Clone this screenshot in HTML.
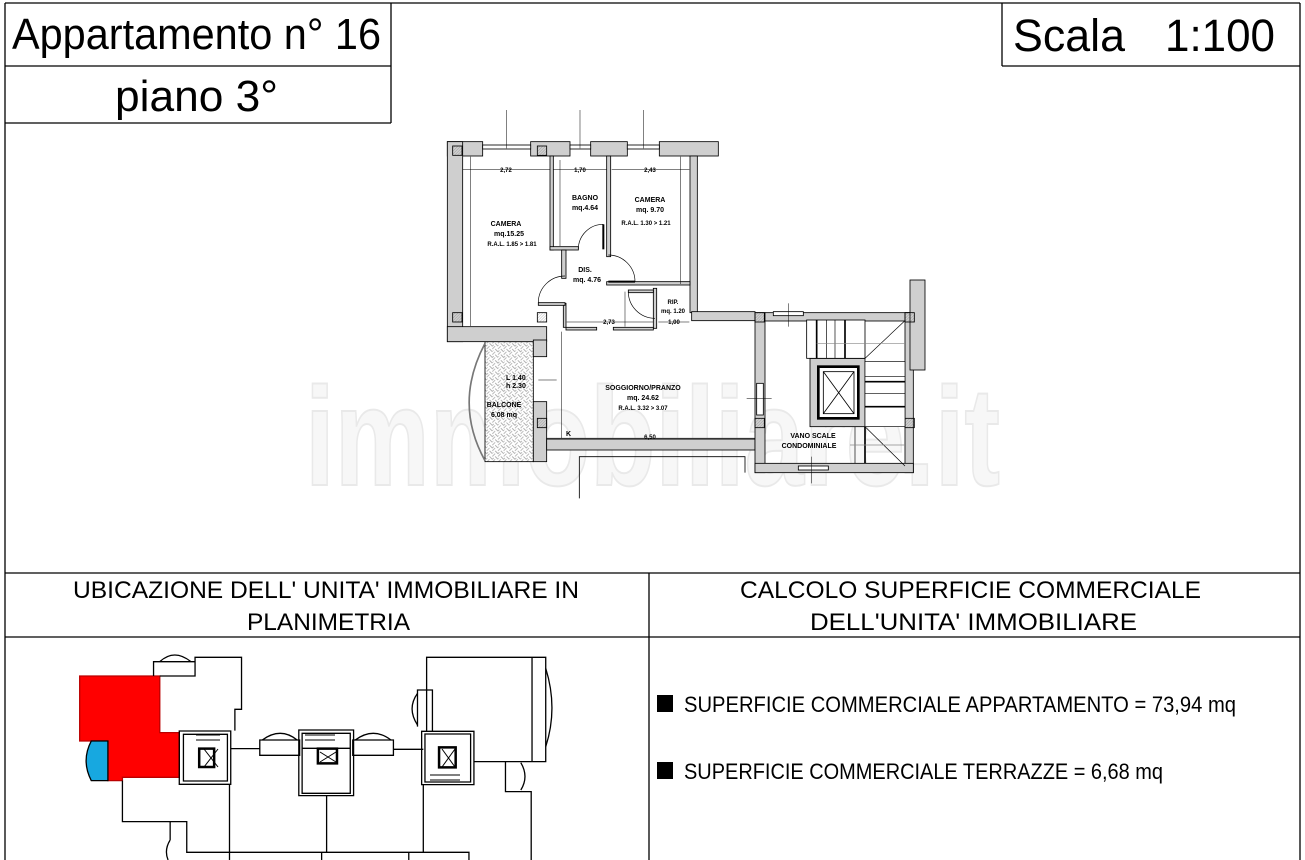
<!DOCTYPE html>
<html><head><meta charset="utf-8"><style>
html,body{margin:0;padding:0;background:#fff;}
svg{display:block;}
text{font-family:"Liberation Sans",Arial,sans-serif;}
</style></head><body>
<svg width="1305" height="860" viewBox="0 0 1305 860" xmlns="http://www.w3.org/2000/svg">
<defs>
<pattern id="hatch" width="6" height="6" patternUnits="userSpaceOnUse" patternTransform="rotate(45)">
<line x1="0" y1="0" x2="0" y2="6" stroke="#555" stroke-width="1.2"/>
</pattern>
<pattern id="herr" width="24" height="24" patternUnits="userSpaceOnUse" patternTransform="rotate(45)">
<rect width="24" height="24" fill="#fff"/>
<path d="M0 6H12V0M12 18H24V12M6 12V24M18 0V12" stroke="#999" stroke-width="2" fill="none"/>
</pattern>
</defs>

<!-- watermark -->
<text x="305" y="485" font-size="140" font-weight="bold" fill="#f7f7f7" stroke="#e9e9e9" stroke-width="2" textLength="695" lengthAdjust="spacingAndGlyphs">immobiliare.it</text>

<!-- frame -->
<g stroke="#000" stroke-width="1.3" fill="none">
<line x1="5" y1="3" x2="1300" y2="3"/>
<line x1="5" y1="3" x2="5" y2="860"/>
<line x1="1300" y1="3" x2="1300" y2="860"/>
<line x1="5" y1="66" x2="391" y2="66"/>
<line x1="5" y1="123" x2="391" y2="123"/>
<line x1="391" y1="3" x2="391" y2="123"/>
<line x1="1002" y1="3" x2="1002" y2="66"/>
<line x1="1002" y1="66" x2="1300" y2="66"/>
<line x1="5" y1="573" x2="1300" y2="573"/>
<line x1="5" y1="637" x2="1300" y2="637"/>
<line x1="649" y1="573" x2="649" y2="860"/>
</g>

<text x="12" y="49" font-size="44" textLength="369" lengthAdjust="spacingAndGlyphs">Appartamento n° 16</text>
<text x="115" y="111" font-size="44" textLength="163" lengthAdjust="spacingAndGlyphs">piano 3°</text>
<text x="1013" y="51" font-size="45" textLength="112" lengthAdjust="spacingAndGlyphs">Scala</text>
<text x="1165" y="51" font-size="45" textLength="110" lengthAdjust="spacingAndGlyphs">1:100</text>

<text x="73" y="598" font-size="24" textLength="506" lengthAdjust="spacingAndGlyphs">UBICAZIONE DELL' UNITA' IMMOBILIARE IN</text>
<text x="247" y="630" font-size="24" textLength="163" lengthAdjust="spacingAndGlyphs">PLANIMETRIA</text>
<text x="740" y="598" font-size="24" textLength="461" lengthAdjust="spacingAndGlyphs">CALCOLO SUPERFICIE COMMERCIALE</text>
<text x="810" y="630" font-size="24" textLength="327" lengthAdjust="spacingAndGlyphs">DELL'UNITA' IMMOBILIARE</text>

<rect x="657" y="695" width="16" height="17" fill="#000"/>
<text x="684" y="712" font-size="22" textLength="552" lengthAdjust="spacingAndGlyphs">SUPERFICIE COMMERCIALE APPARTAMENTO = 73,94 mq</text>
<rect x="657" y="762" width="16" height="17" fill="#000"/>
<text x="684" y="779" font-size="22" textLength="479" lengthAdjust="spacingAndGlyphs">SUPERFICIE COMMERCIALE TERRAZZE = 6,68 mq</text>

<!-- FLOOR PLAN (zoom coords, /3) -->
<g transform="translate(440,110) scale(0.33333)" stroke="#000" stroke-width="2.5">
<rect x="135" y="695" width="145" height="360" fill="url(#herr)"/>
<path d="M135 700 Q40 880 135 1052" fill="none" stroke="#777" stroke-width="5"/>
<g fill="#cfcfcf">
<rect x="22" y="95" width="106" height="43"/>
<rect x="272" y="95" width="118" height="43"/>
<rect x="452" y="95" width="110" height="43"/>
<rect x="658" y="95" width="177" height="43"/>
<rect x="22" y="95" width="46" height="600"/>
<rect x="22" y="650" width="298" height="45"/>
<rect x="280" y="690" width="40" height="50"/>
<rect x="280" y="875" width="40" height="180"/>
<rect x="320" y="985" width="625" height="35"/>
<rect x="750" y="138" width="22" height="470"/>
<rect x="755" y="605" width="190" height="27"/>
<rect x="330" y="138" width="10" height="282"/>
<rect x="330" y="410" width="85" height="10"/>
<rect x="365" y="420" width="13" height="85"/>
<rect x="500" y="138" width="12" height="302"/>
<rect x="500" y="515" width="250" height="10"/>
<rect x="640" y="535" width="10" height="120"/>
<rect x="370" y="580" width="8" height="72"/>
<rect x="295" y="578" width="80" height="8"/>
<rect x="378" y="652" width="92" height="8"/>
<rect x="520" y="652" width="120" height="8"/>
<rect x="565" y="540" width="75" height="8"/>
<rect x="945" y="608" width="30" height="480"/>
<rect x="975" y="608" width="440" height="25"/>
<rect x="1395" y="608" width="25" height="480"/>
<rect x="1410" y="510" width="45" height="270"/>
<rect x="945" y="1060" width="475" height="28"/>
<rect x="1110" y="745" width="165" height="205"/>
</g>
<g fill="#fff">
<rect x="128" y="105" width="144" height="12"/>
<rect x="390" y="105" width="62" height="12"/>
<rect x="562" y="105" width="96" height="12"/>
<rect x="1000" y="605" width="90" height="12"/>
<rect x="1075" y="1068" width="90" height="12"/>
<rect x="950" y="820" width="20" height="95"/>
</g>
<polyline points="418,1165 418,1040 915,1040 915,1088" fill="none"/>
<g fill="url(#hatch)">
<rect x="38" y="108" width="28" height="28"/><rect x="292" y="108" width="28" height="28"/>
<rect x="38" y="608" width="28" height="28"/><rect x="292" y="608" width="28" height="28"/>
<rect x="945" y="608" width="28" height="28"/><rect x="1395" y="608" width="28" height="28"/>
<rect x="945" y="925" width="28" height="28"/><rect x="1395" y="925" width="28" height="28"/>
<rect x="292" y="925" width="28" height="28"/>
</g>
<g fill="none" stroke-width="2">
<path d="M415 418 A75 75 0 0 1 490 343"/><line x1="490" y1="343" x2="490" y2="418" stroke-width="6"/>
<path d="M585 515 A80 80 0 0 0 505 435"/><line x1="505" y1="515" x2="585" y2="515" stroke-width="6"/>
<path d="M295 578 A80 80 0 0 1 375 498"/>
<path d="M565 545 A80 80 0 0 0 645 625"/>
</g>
<rect x="1100" y="630" width="175" height="115" fill="#fff"/>
<g fill="none" stroke-width="2">
<line x1="1130" y1="630" x2="1130" y2="745" stroke-width="5"/><line x1="1160" y1="630" x2="1160" y2="745"/>
<line x1="1185" y1="630" x2="1185" y2="745"/><line x1="1215" y1="630" x2="1215" y2="745" stroke-width="5"/>
<line x1="1275" y1="745" x2="1395" y2="632"/>
<rect x="1275" y="755" width="120" height="195" fill="#fff"/>
<line x1="1275" y1="800" x2="1395" y2="800"/><line x1="1275" y1="815" x2="1395" y2="815" stroke-width="5"/>
<line x1="1275" y1="850" x2="1395" y2="850"/><line x1="1275" y1="890" x2="1395" y2="890" stroke-width="5"/>
<line x1="1275" y1="950" x2="1395" y2="1068"/>
<line x1="1245" y1="950" x2="1245" y2="1060"/><line x1="1275" y1="950" x2="1275" y2="1060" stroke-width="5"/>
<line x1="1130" y1="700" x2="1395" y2="700" stroke="#888"/>
<line x1="1230" y1="1005" x2="1395" y2="1005" stroke="#888"/>
</g>
<rect x="1135" y="770" width="120" height="155" fill="#fff" stroke-width="8"/>
<rect x="1150" y="785" width="92" height="126" fill="none"/>
<line x1="1150" y1="785" x2="1242" y2="911"/><line x1="1242" y1="785" x2="1150" y2="911"/>
<g stroke-width="1.5" fill="none">
<line x1="68" y1="178" x2="330" y2="178"/><line x1="340" y1="178" x2="500" y2="178"/><line x1="515" y1="178" x2="748" y2="178"/>
<line x1="92" y1="140" x2="92" y2="648"/><line x1="722" y1="140" x2="722" y2="522"/><line x1="360" y1="150" x2="360" y2="408"/>
<line x1="365" y1="665" x2="365" y2="985"/><line x1="320" y1="988" x2="945" y2="988"/>
<line x1="380" y1="636" x2="640" y2="636"/><line x1="655" y1="636" x2="748" y2="636"/>
<line x1="555" y1="545" x2="555" y2="650"/>
<line x1="200" y1="0" x2="200" y2="115"/><line x1="420" y1="0" x2="420" y2="115"/><line x1="610" y1="0" x2="610" y2="115"/>
<line x1="1045" y1="580" x2="1045" y2="650"/><line x1="920" y1="865" x2="995" y2="865"/><line x1="1115" y1="1040" x2="1115" y2="1120"/>
<line x1="295" y1="810" x2="350" y2="810"/>
</g>
</g>
<g font-size="7" font-weight="bold" text-anchor="middle">
<text x="506" y="226">CAMERA</text><text x="509" y="236">mq.15.25</text>
<text x="512" y="246" font-size="6">R.A.L. 1.85 &gt; 1.81</text>
<text x="585" y="200">BAGNO</text><text x="585" y="210">mq.4.64</text>
<text x="650" y="202">CAMERA</text><text x="650" y="212">mq. 9.70</text>
<text x="646" y="225" font-size="6">R.A.L. 1.30 &gt; 1.21</text>
<text x="585" y="272">DIS.</text><text x="587" y="282">mq. 4.76</text>
<text x="673" y="304" font-size="6">RIP.</text><text x="673" y="313" font-size="6">mq. 1.20</text>
<text x="643" y="390">SOGGIORNO/PRANZO</text><text x="643" y="400">mq. 24.62</text>
<text x="643" y="410" font-size="6">R.A.L. 3.32 &gt; 3.07</text>
<text x="504" y="407">BALCONE</text><text x="504" y="417">6.08 mq</text>
<text x="813" y="438">VANO SCALE</text><text x="809" y="448">CONDOMINIALE</text>
<text x="506" y="172" font-size="6">2,72</text><text x="580" y="172" font-size="6">1,70</text><text x="650" y="172" font-size="6">2,43</text>
<text x="609" y="324" font-size="6">2,73</text><text x="674" y="324" font-size="6">1,00</text>
<text x="650" y="439" font-size="6">6,50</text>
</g>
<text x="506" y="380" font-size="7" font-weight="bold">L 1.40</text>
<text x="506" y="388" font-size="7" font-weight="bold">h 2.30</text>
<text x="566" y="436" font-size="7" font-weight="bold">K</text>

<!-- BOTTOM LEFT MAP -->
<g transform="translate(0,640) scale(0.415,0.3333)" stroke="#000" stroke-width="1.3" fill="none">
<polygon points="192,108 385,108 385,278 432,278 432,412 295,412 295,422 260,422 260,303 192,303" fill="#ff0000" stroke="#b00" vector-effect="non-scaling-stroke"/>
<path d="M220 303 L260 303 L260 422 L220 422 Q195 362 220 303Z" fill="#17a8e0" vector-effect="non-scaling-stroke"/>
<polyline points="385,108 470,108 470,52 582,52 582,208 566,208 566,272" vector-effect="non-scaling-stroke"/>
<polyline points="370,108 370,65 470,65" vector-effect="non-scaling-stroke"/>
<path d="M385 65 Q420 25 460 65" vector-effect="non-scaling-stroke"/>
<rect x="432" y="273" width="124" height="160" vector-effect="non-scaling-stroke"/>
<rect x="442" y="283" width="106" height="140" vector-effect="non-scaling-stroke"/>
<rect x="480" y="326" width="36" height="55" stroke-width="2.5" vector-effect="non-scaling-stroke"/>
<polyline points="556,326 626,326" vector-effect="non-scaling-stroke"/>
<rect x="626" y="300" width="96" height="46" vector-effect="non-scaling-stroke"/>
<path d="M632 300 Q676 260 716 300" vector-effect="non-scaling-stroke"/>
<rect x="720" y="270" width="132" height="197" vector-effect="non-scaling-stroke"/>
<rect x="728" y="280" width="116" height="180" vector-effect="non-scaling-stroke"/>
<rect x="766" y="326" width="46" height="44" stroke-width="2.5" vector-effect="non-scaling-stroke"/>
<line x1="728" y1="325" x2="844" y2="325" vector-effect="non-scaling-stroke"/>
<rect x="850" y="300" width="98" height="46" vector-effect="non-scaling-stroke"/>
<path d="M856 300 Q900 260 942 300" vector-effect="non-scaling-stroke"/>
<polyline points="948,328 1020,328" vector-effect="non-scaling-stroke"/>
<rect x="1016" y="274" width="126" height="160" vector-effect="non-scaling-stroke"/>
<rect x="1024" y="282" width="110" height="144" vector-effect="non-scaling-stroke"/>
<rect x="1058" y="322" width="40" height="60" stroke-width="2.5" vector-effect="non-scaling-stroke"/>
<polyline points="1028,274 1028,52 1315,52 1315,365 1142,365" vector-effect="non-scaling-stroke"/>
<line x1="1282" y1="52" x2="1282" y2="365" vector-effect="non-scaling-stroke"/>
<polyline points="1006,260 1006,150 1042,150 1042,274" vector-effect="non-scaling-stroke"/>
<path d="M1006 160 Q980 205 1006 255" vector-effect="non-scaling-stroke"/>
<path d="M1315 85 Q1345 205 1315 320" vector-effect="non-scaling-stroke"/>
<polyline points="1218,365 1218,455 1280,455 1280,660" vector-effect="non-scaling-stroke"/>
<path d="M1255 368 Q1275 410 1255 450" vector-effect="non-scaling-stroke"/>
<polyline points="295,422 295,545 450,545 450,637 1130,637 1130,660" vector-effect="non-scaling-stroke"/>
<line x1="410" y1="545" x2="410" y2="600" vector-effect="non-scaling-stroke"/>
<path d="M410 600 Q395 630 405 660" vector-effect="non-scaling-stroke"/>
<line x1="553" y1="433" x2="553" y2="660" vector-effect="non-scaling-stroke"/>
<line x1="787" y1="467" x2="787" y2="637" vector-effect="non-scaling-stroke"/>
<line x1="1020" y1="433" x2="1020" y2="637" vector-effect="non-scaling-stroke"/>
<line x1="775" y1="637" x2="775" y2="660" vector-effect="non-scaling-stroke"/>
<line x1="985" y1="637" x2="985" y2="660" vector-effect="non-scaling-stroke"/>
</g>
<g stroke="#000" stroke-width="1" fill="none">
<line x1="204" y1="749" x2="218" y2="767"/><line x1="218" y1="749" x2="204" y2="767"/>
<line x1="320" y1="752" x2="336" y2="762"/><line x1="336" y1="752" x2="320" y2="762"/>
<line x1="442" y1="749" x2="455" y2="767"/><line x1="455" y1="749" x2="442" y2="767"/>
<line x1="196" y1="735" x2="220" y2="735"/><line x1="196" y1="740" x2="220" y2="740"/>
<line x1="305" y1="735" x2="335" y2="735"/><line x1="305" y1="740" x2="335" y2="740"/>
<line x1="430" y1="775" x2="460" y2="775"/><line x1="430" y1="780" x2="460" y2="780"/>
</g>
</svg>
</body></html>
